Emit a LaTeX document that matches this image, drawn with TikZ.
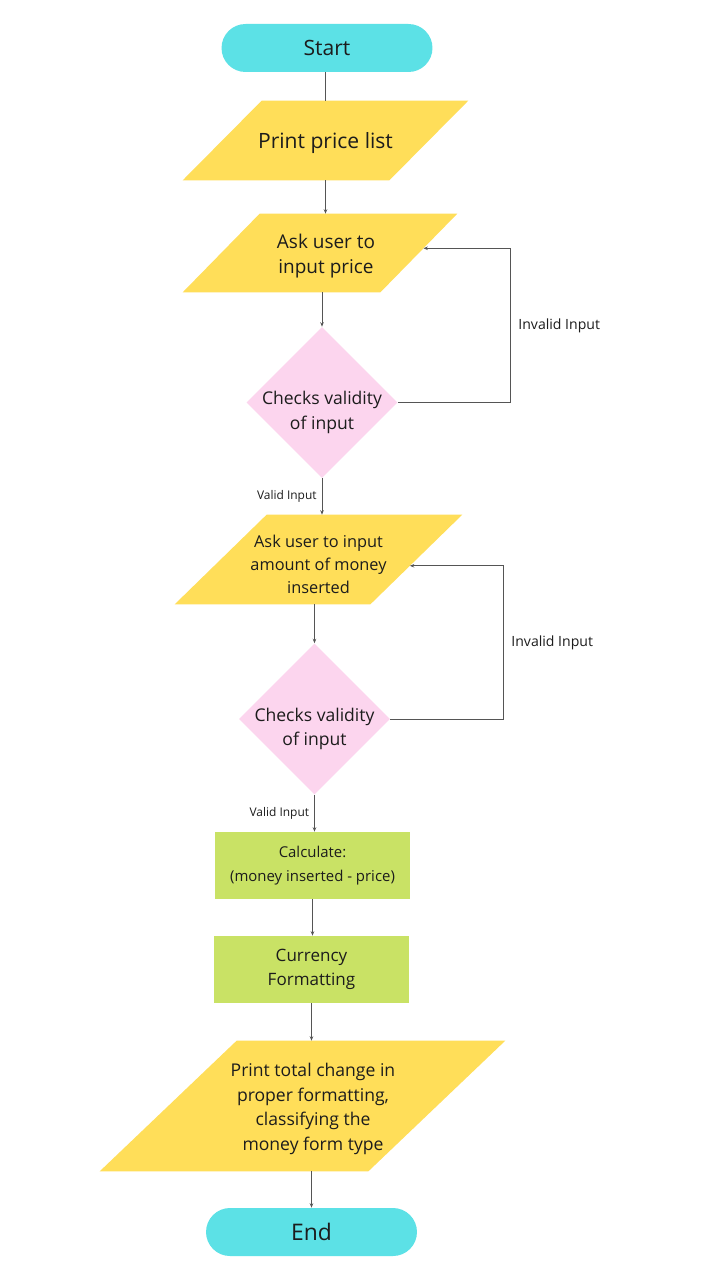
\documentclass[tikz,border=0pt]{standalone}
\usepackage{fontspec}
\setmainfont{Open Sans}
\usetikzlibrary{shapes.geometric,arrows.meta,calc,backgrounds}
\definecolor{termC}{HTML}{5CE1E6}
\definecolor{ioY}{HTML}{FFDE59}
\definecolor{decP}{HTML}{FCD5EE}
\definecolor{procG}{HTML}{C9E265}
\definecolor{lineG}{HTML}{555555}
\definecolor{txtK}{HTML}{1C1C1C}
% parallelogram behind an io node: name, slant
\newcommand{\iobg}[2]{%
  \begin{scope}[on background layer]
    \fill[ioY] (#1.south west) -- ([xshift=-#2]#1.south east) -- (#1.north east) -- ([xshift=#2]#1.north west) -- cycle;
  \end{scope}}

\begin{document}
\begin{tikzpicture}[
  x=0.02cm, y=-0.02cm,
  base/.style={align=center, text=txtK, inner sep=0pt},
  term/.style={base, fill=termC, rounded corners=0.48cm, minimum width=4.22cm, minimum height=0.96cm},
  io/.style={base},
  iotxt/.style={base, yshift=-0.06cm},
  dec/.style={base, fill=decP, diamond, minimum width=3.02cm, minimum height=3.02cm},
  dtxt/.style={base, font=\fontsize{10}{14}\selectfont, yshift=-0.2cm},
  proc/.style={base, fill=procG, minimum width=3.9cm, minimum height=1.34cm},
  arr/.style={draw=lineG, line width=0.5pt, -{Stealth[length=2.5pt,width=2pt]}},
  lbl/.style={font=\fontsize{8}{10}\selectfont, text=txtK, inner sep=0pt},
  vlbl/.style={font=\fontsize{6.8}{9}\selectfont, text=txtK, inner sep=0pt}
]
\begin{scope}[on background layer]
  \fill[white] (0,0) rectangle (720,1280);
\end{scope}
\node[term, font=\fontsize{12}{14}\selectfont] (start) at (327,48) {Start};
\node[io, minimum width=5.7cm, minimum height=1.58cm,
  label={[iotxt, font=\fontsize{12}{14}\selectfont]center:Print price list}] (plist) at (325.5,140.5) {};
\iobg{plist}{1.58cm}
\node[io, minimum width=5.48cm, minimum height=1.56cm,
  label={[iotxt, xshift=0.12cm, font=\fontsize{10.8}{14.7}\selectfont]center:{Ask user to\\input price}}] (askp) at (320,253) {};
\iobg{askp}{1.54cm}
\node[dec, label={[dtxt]center:{Checks validity\\of input}}] (chk1) at (322,402.5) {};
\node[io, minimum width=5.74cm, minimum height=1.78cm,
  label={[iotxt, yshift=-0.04cm, font=\fontsize{9.3}{13}\selectfont]center:{Ask user to input\\amount of money\\inserted}}] (askm) at (318.5,559.5) {};
\iobg{askm}{1.84cm}
\node[dec, label={[dtxt]center:{Checks validity\\of input}}] (chk2) at (314.5,719) {};
\node[proc, font=\fontsize{8.5}{13.6}\selectfont] (calc) at (312.5,865.5) {Calculate:\\(money inserted - price)};
\node[proc, font=\fontsize{9.7}{13.6}\selectfont] (fmt) at (311.5,969.5) {Currency\\Formatting};
\node[io, minimum width=8.1cm, minimum height=2.6cm,
  label={[iotxt, xshift=0.21cm, font=\fontsize{10}{14}\selectfont]center:{Print total change in\\proper formatting,\\classifying the\\money form type}}] (pchg) at (302.5,1106) {};
\iobg{pchg}{2.74cm}
\node[term, font=\fontsize{13}{15}\selectfont] (stop) at (311.5,1232) {End};

% main flow
\draw[arr, -] (plist.north |- start.south) -- (plist.north);
\draw[arr] (plist.south) -- (plist.south |- askp.north);
\draw[arr] (chk1.north |- askp.south) -- (chk1.north);
\draw[arr] (chk1.south) -- node[vlbl, left=0.1cm] {Valid Input} (chk1.south |- askm.north);
\draw[arr] (chk2.north |- askm.south) -- (chk2.north);
\draw[arr] (chk2.south) -- node[vlbl, left=0.1cm] {Valid Input} (chk2.south |- calc.north);
\draw[arr] (calc.south) -- (calc.south |- fmt.north);
\draw[arr] (fmt.south) -- (fmt.south |- pchg.north);
\draw[arr] (stop.north |- pchg.south) -- (stop.north);

% invalid loops
\coordinate (in1) at ($(askp.north east)!0.44!([xshift=-1.54cm]askp.south east)$);
\coordinate (r1) at (510,0);
\draw[arr] (chk1.east) -| node[lbl, pos=0.75, right=0.16cm] {Invalid Input} (r1 |- in1) -- (in1);
\coordinate (in2) at ($(askm.north east)!0.57!([xshift=-1.84cm]askm.south east)$);
\coordinate (r2) at (503,0);
\draw[arr] (chk2.east) -| node[lbl, pos=0.75, right=0.16cm] {Invalid Input} (r2 |- in2) -- (in2);
\end{tikzpicture}
\end{document}
